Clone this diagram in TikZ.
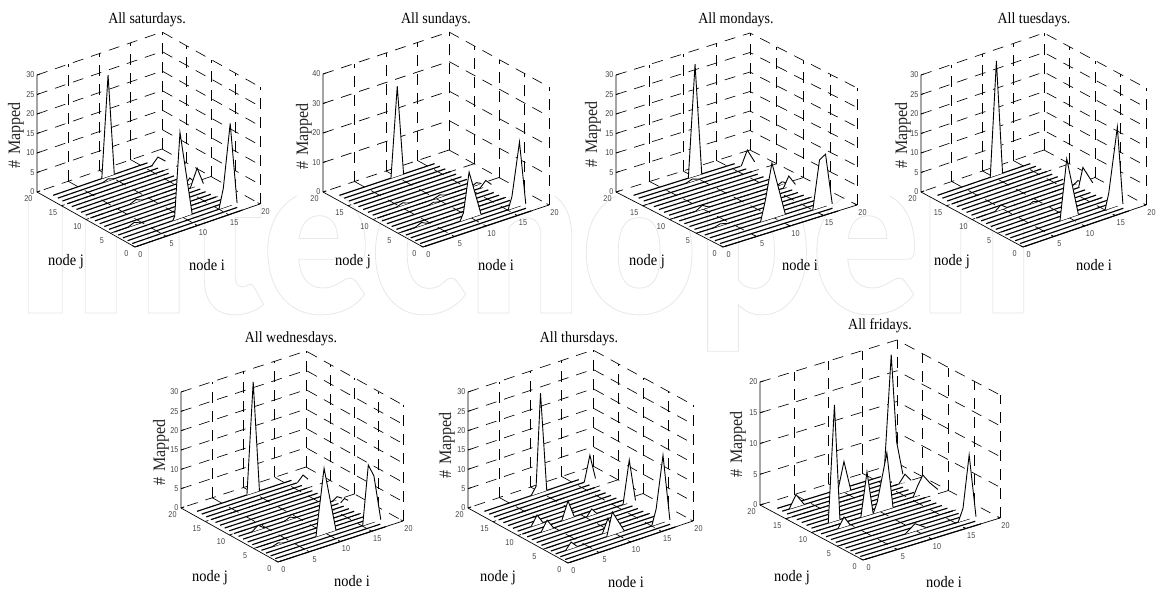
\documentclass[tikz,border=0pt]{standalone}
\usepackage{fontspec}
\setmainfont{Liberation Serif}
\newfontfamily\serA[FakeStretch=0.9]{Liberation Serif}
\newfontfamily\serB[FakeStretch=0.92,WordSpace=1.3]{Liberation Serif}
\newfontfamily\tickf[FakeStretch=0.85]{Liberation Sans}
\newfontfamily\wmf[FakeStretch=0.86]{Lato Black}
\tikzset{
  wall/.style={line width=0.65pt,dash pattern=on 11pt off 8pt},
  axisl/.style={line width=0.7pt},
  rowl/.style={line width=1.15pt},
  peak/.style={line width=0.9pt,fill=white,line join=miter},
  ticklab/.style={font=\tickf\fontsize{8.5}{9}\selectfont,text=black!72,inner sep=0pt},
  titlelab/.style={font=\serA\fontsize{15.5}{16}\selectfont,inner sep=0pt},
  nodelab/.style={font=\serA\fontsize{16}{17}\selectfont,inner sep=0pt},
  maplab/.style={font=\serB\fontsize{17.5}{18}\selectfont,text=black!85,inner sep=0pt,rotate=90}
}
\newcommand\panel[9]{%
  \def\pLx{#1}\def\pLy{#2}\def\pH{#3}\def\pFx{#4}\def\pFy{#5}\def\pRx{#6}\def\pRy{#7}\def\pZmax{#8}\def\pZstep{#9}%
  \panelB}
\newcommand\panelB[9]{%
  \def\pTitle{#1}\def\pTx{#2}\def\pTy{#3}\def\pMx{#4}\def\pMy{#5}\def\pJx{#6}\def\pJy{#7}\def\pIx{#8}\def\pIy{#9}%
  \panelC}
\newcommand\panelC[1]{%
  \pgfmathsetmacro\ivx{(\pRx-\pFx)/20}\pgfmathsetmacro\ivy{(\pFy-\pRy)/20}%
  \pgfmathsetmacro\jvx{(\pLx-\pFx)/20}\pgfmathsetmacro\jvy{(\pFy-\pLy)/20}%
  \pgfmathsetmacro\zvy{\pH/\pZmax}%
  \pgfmathsetmacro\pZnext{\pZstep+\pZstep}%
  \node[titlelab] (title) at (\pTx,\pTy) {\pTitle};
  \node[maplab] (mapped) at (\pMx,\pMy) {\# Mapped};
  \node[nodelab] (nodej) at (\pJx,\pJy) {node j};
  \node[nodelab] (nodei) at (\pIx,\pIy) {node i};
  \begin{scope}[shift={(\pFx,\pFy)},x={(\ivx pt,\ivy pt)},y={(\jvx pt,\jvy pt)},z={(0pt,\zvy pt)}]
    % walls
    \foreach \g in {5,10,15,20}{
      \draw[wall] (\g,20,0) -- (\g,20,\pZmax);
      \draw[wall] (20,\g,0) -- (20,\g,\pZmax);
      \draw[wall] (\g,20,0) -- (\g,0,0);
      \draw[wall] (20,\g,0) -- (0,\g,0);
    }
    \draw[wall] (20,0,0) -- (20,0,\pZmax);
    \foreach \z in {\pZstep,\pZnext,...,\pZmax}{
      \draw[wall] (0,20,\z) -- (20,20,\z) -- (20,0,\z);
    }
    % axes
    \draw[axisl] (0,20,\pZmax) -- (0,20,0) -- (0,0,0) -- (20,0,0);
    \foreach \z in {0,\pZstep,...,\pZmax}{
      \draw[axisl] (0,20,\z) -- (0.5,20,\z);
      \node[ticklab,anchor=east,xshift=-2.5pt] (zt) at (0,20,\z) {\z};
    }
    \foreach \g in {0,5,10,15,20}{
      \draw[axisl] (0,\g,0) -- (0.5,\g,0);
      \draw[axisl] (\g,0,0) -- (\g,0.5,0);
      \node[ticklab,xshift=-8.5pt,yshift=-7pt] (jt) at (0,\g,0) {\g};
      \node[ticklab,xshift=5.5pt,yshift=-7.5pt] (it) at (\g,0,0) {\g};
    }
    % rows, back to front
    \foreach \rw in {18,17,...,0}{
      \pgfmathsetmacro\rs{0.3+0.04*\rw}\pgfmathsetmacro\re{17.2-0.06*\rw}
      \draw[rowl] (\rs,\rw,0) -- (\re,\rw,0);
      \foreach \pj/\pst/\pts in {#1}{
        \ifnum\pj=\rw\relax
          \filldraw[peak] (\pst,\rw,0) \foreach \a/\z in \pts { -- (\a,\rw,\z) };
        \fi
      }
    }
  \end{scope}
}
\begin{document}
\begin{tikzpicture}[x=1pt,y=-1pt]
\useasboundingbox (0,0) rectangle (1156,589);
\fill[white] (0,0) rectangle (1156,589);
% faint watermark
\begin{scope}
  \clip (0,196) rectangle (1156,375);
  \node[anchor=base west,inner sep=0pt] (wmark) at (14,313) {\wmf\fontsize{232}{240}\selectfont\special{pdf:code 1 Tr 0.8 w 0.91 G}Intechopen\special{pdf:code 0 Tr 0 G}};
\end{scope}
% All saturdays
\panel{37}{192}{117}{135}{247}{260}{204}{30}{5}
  {All saturdays.}{147}{20}{16}{135}{66}{262}{207}{265}
  {18/8.8/{9.8/26,10.8/0},
   17/16/{17/1.7,18.2/0},
   17/8.2/{9/0.5,10/0},
   10/15.8/{16.6/1.5,17.4/0},
   10/7/{8/0.7,9/0},
   9/15.9/{17/4.5,18/0},
   5/2.8/{3.8/0.7,4.8/0},
   3/8.4/{8.7/1,9.55/22,11.5/0},
   2/15/{15.7/5,16.8/21,17.9/0}}
% All sundays
\panel{323}{192}{118}{423}{247}{549}{205}{40}{10}
  {All sundays.}{436}{20}{304}{136}{353}{262}{496}{265}
  {18/9.2/{10.2/30.5,11.2/0},
   11/4.5/{5.5/0.8,6.5/0},
   10/15.6/{16.4/0.8,17.2/0},
   10/9.5/{10.6/0.8,11.6/0},
   9/16.2/{17.1/2,18/0},
   9/8/{8.8/0.5,9.6/0},
   5/2.7/{3.7/1,4.7/0},
   3/8.25/{8.8/2.5,9.7/15.7,11.6/0},
   2/15.1/{15.7/4,16.9/21.7,17.9/0}}
% All mondays
\panel{616}{192}{117}{723}{247}{857}{205}{30}{5}
  {All mondays.}{736}{20}{593}{134}{647}{262}{800}{265}
  {18/9.2/{10.2/28.7,11.2/0},
   17/16.3/{17.2/3.6,18.3/0},
   17/8/{9/0.6,10/0},
   10/16/{16.8/0.6,17.5/0},
   10/3.9/{4.9/1,5.9/0},
   9/16.2/{17/2.7,18/0},
   5/2.6/{3.6/0.5,4.6/0},
   3/8/{8.7/5,9.7/14.2,11.7/0},
   2/15/{16/12.3,16.9/13.3,17.9/0}}
% All tuesdays
\panel{921}{192}{117}{1023}{247}{1146}{205}{30}{5}
  {All tuesdays.}{1034}{20}{903}{135}{952}{262}{1094}{265}
  {18/9.6/{10.6/29.3,11.6/0},
   10/16.5/{17.2/0.7,17.9/0},
   10/3.7/{4.7/1.2,5.7/0},
   9/16.5/{17.2/4.8,18.8/0},
   9/8.5/{9.1/0.4,9.8/0},
   3/8.5/{9.6/15.3,11.5/0},
   2/15/{15.6/4,17/20.2,17.9/0}}
% All wednesdays
\panel{181}{508}{116}{278}{562}{403}{521}{30}{5}
  {All wednesdays.}{291}{339}{161}{452}{210}{578}{352}{581}
  {18/9/{10/28.7,11/0},
   17/16.3/{17.2/1.5,18/0},
   10/16.5/{17.2/0.8,18/0},
   9/17/{17.6/0.8,18.2/0},
   9/2.8/{3.8/1.2,4.8/0},
   9/8/{8.9/0.6,9.8/0},
   4/2.2/{3.1/0.5,4/0},
   3/8.4/{9.7/17,11.6/0},
   2/15.1/{16/15.2,16.9/11.9,18/0}}
% All thursdays
\panel{468}{508}{116}{568}{563}{693}{521}{30}{5}
  {All thursdays.}{579}{339}{447}{445}{498}{578}{626}{582}
  {18/8.5/{9.3/2,10/25.7,11/0},
   17/16.2/{17.1/6.5,18/0},
   11/2.9/{3.85/2.5,4.8/0},
   10/7/{8/4.6,9/0},
   9/16/{17/11,18/0},
   9/2.9/{3.85/2.6,4.9/0},
   9/10.2/{11/1.6,11.8/0},
   4/8.7/{9.6/3.5,10.4/0},
   3/2/{2.9/1.7,3.9/0},
   3/8.6/{9.5/5.9,11.4/0},
   2/15/{15.7/4,16.8/17.3,17.9/0}}
% All fridays
\panel{760}{505}{123}{863}{560}{1000}{518}{20}{5}
  {All fridays.}{880}{326}{738}{444}{792}{578}{944}{582}
  {17/15.8/{16.9/20,17.7/5.5,18.6/0},
   17/9/{10/5,11/0},
   17/2/{3/2,4.2/0},
   15/16.5/{17.4/1.3,18.3/0},
   11/3.2/{4.1/18.9,4.9/0},
   11/15.6/{16.2/1.5,17/3.1,18/1.5,19.2/0},
   10/9/{9.6/1.7,11/9.2,11.9/0},
   10/7.2/{8.1/7.1,9/0},
   9/3.1/{4/1.6,4.9/0},
   3/8.4/{9.85/1.2,11.5/0},
   2/15.4/{16.1/2,17/10.4,18/0}}
\end{tikzpicture}
\end{document}
